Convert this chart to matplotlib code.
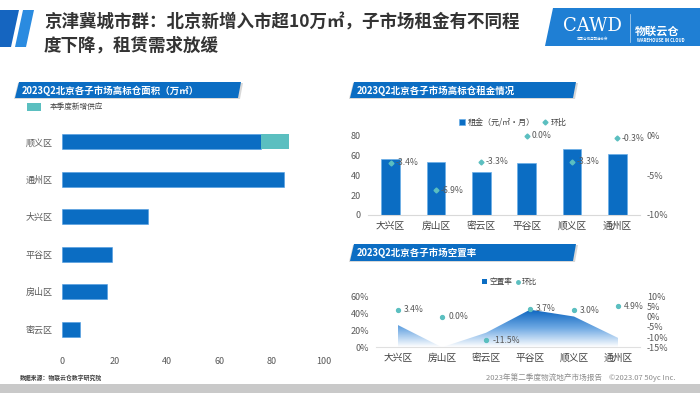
import numpy as np
import matplotlib
matplotlib.use("Agg")
import matplotlib.pyplot as plt
from matplotlib.patches import Polygon, Rectangle
from matplotlib.colors import LinearSegmentedColormap

plt.rcParams['font.family'] = ['Noto Sans CJK SC', 'DejaVu Sans']
plt.rcParams['axes.unicode_minus'] = False

# ---------------- data ----------------
area_districts = ["顺义区", "通州区", "大兴区", "平谷区", "房山区", "密云区"]
area_existing = [76, 84.6, 33, 19, 17, 7]
area_new = [10.5, 0, 0, 0, 0, 0]

districts = ["大兴区", "房山区", "密云区", "平谷区", "顺义区", "通州区"]
rent = [56, 53.5, 43, 52, 67, 61.5]
rent_qoq = [-3.4, -6.9, -3.3, 0.0, -3.3, -0.3]
rent_qoq_labels = ["-3.4%", "-6.9%", "-3.3%", "0.0%", "-3.3%", "-0.3%"]

vacancy = [26, 0, 17, 44, 36, 11]
vac_qoq = [3.4, 0.0, -11.5, 3.7, 3.0, 4.9]
vac_qoq_labels = ["3.4%", "0.0%", "-11.5%", "3.7%", "3.0%", "4.9%"]

BLUE = "#0b6dc3"
TEAL = "#5bbfc0"
GRAY = "#595959"

W, H = 700, 393
fig = plt.figure(figsize=(W / 100, H / 100), dpi=100)
fig.patch.set_facecolor("white")


def ax_px(x0, y0, x1, y1, **kw):
    return fig.add_axes([x0 / W, 1 - y1 / H, (x1 - x0) / W, (y1 - y0) / H], **kw)


# background overlay (pixel coords)
bg = ax_px(0, 0, W, H)
bg.set_xlim(0, W)
bg.set_ylim(H, 0)
bg.axis("off")

# title decoration
bg.add_patch(Polygon([(0, 10), (19, 10), (11, 47), (0, 47)], color="#1565c0", lw=0))
bg.add_patch(Polygon([(23, 10), (34, 10), (26, 47), (15, 47)], color="#2a8be0", lw=0))
bg.text(44, 22, "京津冀城市群：北京新增入市超10万㎡，子市场租金有不同程", fontsize=12.6,
        fontweight="bold", color="#333333", va="center", ha="left")
bg.text(44, 46, "度下降，租赁需求放缓", fontsize=12.6, fontweight="bold",
        color="#333333", va="center", ha="left")

# right logo
bg.add_patch(Polygon([(553, 8), (700, 8), (700, 46), (545, 46)], color="#1f7fd4", lw=0))
bg.text(592, 26, "CAWD", fontsize=13, color="white", family="DejaVu Serif",
        ha="center", va="center")
bg.text(592, 39, "中国仓储与配送协会", fontsize=2.5, color="white", ha="center", va="center")
bg.plot([630, 630], [14, 42], color="white", lw=0.5, alpha=0.7)
bg.text(657, 31, "物联云仓", fontsize=8, color="white", fontweight="bold",
        ha="center", va="center")
bg.text(661, 41, "WAREHOUSE IN CLOUD", fontsize=3, color="white", fontweight="bold",
        ha="center", va="center")


def banner(x0, x1, y0, y1, text):
    bg.add_patch(Polygon([(x0 + 3, y0 + 1), (x1 + 2, y0 + 1), (x1 - 1, y1 + 1), (x0 - 1, y1 + 1)],
                         color="#bfbfbf", lw=0, alpha=0.6))
    bg.add_patch(Polygon([(x0 + 4, y0), (x1, y0), (x1 - 3, y1), (x0, y1)], color=BLUE, lw=0))
    bg.text(x0 + 7, (y0 + y1) / 2 + 0.5, text, fontsize=6.8, color="white", fontweight="bold",
            style="italic", ha="left", va="center")


banner(15, 241, 82, 98, "2023Q2北京各子市场高标仓面积（万㎡）")
banner(350, 576, 82, 98, "2023Q2北京各子市场高标仓租金情况")
banner(350, 576, 244, 261, "2023Q2北京各子市场空置率")

# left legend
bg.add_patch(Rectangle((27, 103), 14, 8, color=TEAL, lw=0))
bg.text(50, 107, "本季度新增供应", fontsize=5.5, color="#404040", va="center", ha="left")

# footer
bg.add_patch(Rectangle((0, 384), W, 9, color="#c9c9c9", lw=0))
bg.text(20, 378, "数据来源：物联云仓数字研究院", fontsize=4.2, color="#404040",
        fontweight="bold", va="center", ha="left")
bg.text(676, 378, "2023年第二季度物流地产市场报告    ©2023.07 50yc Inc.", fontsize=5.5,
        color="#8c8c8c", va="center", ha="right")

# ---------------- left: horizontal bars ----------------
ax1 = ax_px(62, 123.25, 324, 347.75)
y = np.arange(len(area_districts))
ax1.barh(y, area_existing, height=0.4, color=BLUE, edgecolor="#4d9be0", lw=0.4)
ax1.barh(y, area_new, left=area_existing, height=0.4, color=TEAL, lw=0)
ax1.set_ylim(len(area_districts) - 0.5, -0.5)
ax1.set_xlim(0, 100)
ax1.set_yticks(y)
ax1.set_yticklabels(area_districts)
ax1.set_xticks([0, 20, 40, 60, 80, 100])
for s in ax1.spines.values():
    s.set_visible(False)
ax1.tick_params(length=0, labelsize=6.5, colors=GRAY, pad=7)
ax1.tick_params(axis="x", pad=7)
ax1.patch.set_alpha(0)

# ---------------- right top: rent ----------------
ax2 = ax_px(368, 135.7, 640, 215)
x = np.arange(len(districts))
ax2.bar(x, rent, width=0.41, color=BLUE, edgecolor="#6aaee8", lw=0.5, label="租金（元/㎡·月）")
ax2.set_xlim(-0.5, len(districts) - 0.5)
ax2.set_ylim(0, 80)
ax2.set_yticks([0, 20, 40, 60, 80])
ax2.set_xticks(x)
ax2.set_xticklabels(districts)
for s in ["top", "left", "right"]:
    ax2.spines[s].set_visible(False)
ax2.spines["bottom"].set_color("#d9d9d9")
ax2.tick_params(length=0, labelsize=6.5, colors=GRAY, pad=5)
ax2.tick_params(axis="x", labelsize=7, colors="#404040", pad=4)
ax2.patch.set_alpha(0)

ax2r = ax2.twinx()
ax2r.set_ylim(-10, 0)
ax2r.set_yticks([-10, -5, 0])
ax2r.set_yticklabels(["-10%", "-5%", "0%"])
ax2r.plot(x, rent_qoq, ls="none", marker="D", ms=2.5, color=TEAL, clip_on=False, label="环比")
for xi, v, lab in zip(x, rent_qoq, rent_qoq_labels):
    ax2r.text(xi + 0.1, v, lab, fontsize=6.2, color=GRAY, va="center", ha="left", clip_on=False)
for s in ax2r.spines.values():
    s.set_visible(False)
ax2r.tick_params(length=0, labelsize=6.5, colors=GRAY, pad=5)

h1, l1 = ax2.get_legend_handles_labels()
h2, l2 = ax2r.get_legend_handles_labels()
fig.legend(h1 + h2, l1 + l2, loc="center", bbox_to_anchor=(513 / W, 1 - 122 / H), ncol=2,
           frameon=False, fontsize=5.8, handlelength=0.7, handleheight=0.7,
           columnspacing=0.8, handletextpad=0.4, labelcolor="#404040")

# ---------------- right bottom: vacancy ----------------
ax3 = ax_px(376, 296, 640, 347.3)
ax3.set_xlim(-0.5, len(districts) - 0.5)
ax3.set_ylim(0, 60)
ax3.set_yticks([0, 20, 40, 60])
ax3.set_yticklabels(["0%", "20%", "40%", "60%"])
cmap = LinearSegmentedColormap.from_list("g", ["#ffffff", "#6fa9e3", "#0a63bf"])
grad = np.linspace(0, 1, 256).reshape(-1, 1)
im = ax3.imshow(grad, extent=[-0.5, 5.5, 0, max(vacancy)], origin="lower", aspect="auto",
                cmap=cmap, zorder=1)
verts = [(x[0], 0)] + list(zip(x, vacancy)) + [(x[-1], 0)]
poly = Polygon(verts, closed=True, facecolor="none", edgecolor="none")
ax3.add_patch(poly)
im.set_clip_path(poly)
ax3.set_xticks(x)
ax3.set_xticklabels(districts)
for s in ["top", "left", "right"]:
    ax3.spines[s].set_visible(False)
ax3.spines["bottom"].set_color("#e0e0e0")
ax3.tick_params(length=0, labelsize=6.5, colors=GRAY, pad=5)
ax3.tick_params(axis="x", labelsize=7, colors="#404040", pad=4)
ax3.patch.set_alpha(0)

ax3r = ax3.twinx()
ax3r.set_ylim(-15, 10)
ax3r.set_yticks([-15, -10, -5, 0, 5, 10])
ax3r.set_yticklabels(["-15%", "-10%", "-5%", "0%", "5%", "10%"])
ax3r.plot(x, vac_qoq, ls="none", marker="o", ms=2.8, color=TEAL, clip_on=False)
for xi, v, lab in zip(x, vac_qoq, vac_qoq_labels):
    ax3r.text(xi + 0.14, v, lab, fontsize=6.2, color=GRAY, va="center", ha="left", clip_on=False)
for s in ax3r.spines.values():
    s.set_visible(False)
ax3r.tick_params(length=0, labelsize=6.5, colors=GRAY, pad=5)

# vacancy legend (drawn on overlay)
bg3 = fig.add_axes([0, 0, 1, 1], zorder=10)
bg3.set_xlim(0, W)
bg3.set_ylim(H, 0)
bg3.axis("off")
bg3.add_patch(Rectangle((482, 279), 5, 5, color=BLUE, lw=0))
bg3.text(489, 281.7, "空置率", fontsize=5.5, color="#404040", va="center", ha="left")
bg3.plot([518], [281.7], marker="o", ms=2.5, color=TEAL)
bg3.text(522, 281.7, "环比", fontsize=5.5, color="#404040", va="center", ha="left")

fig.savefig("out.png", dpi=100)
